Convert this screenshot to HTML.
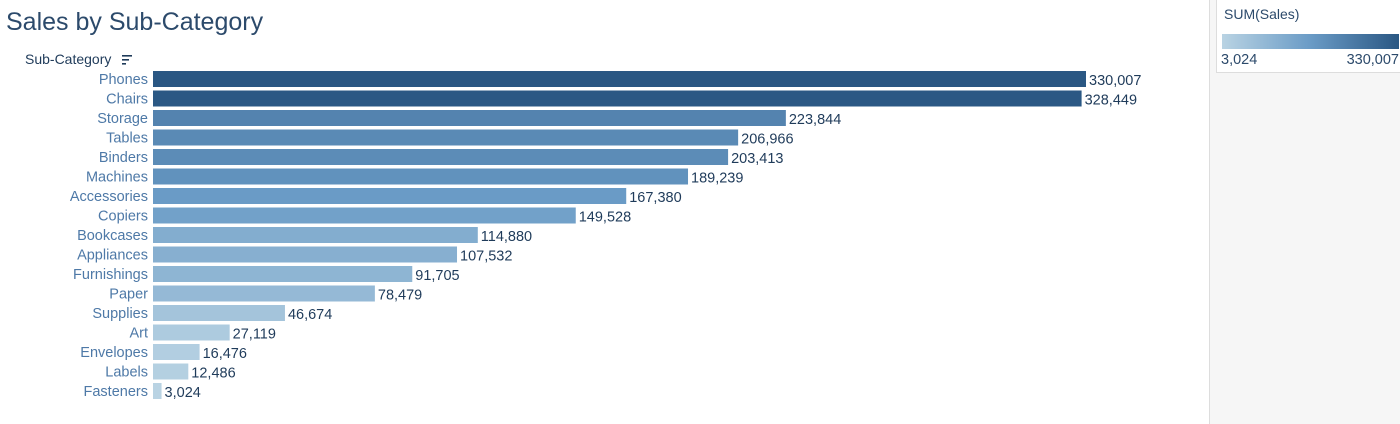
<!DOCTYPE html>
<html><head><meta charset="utf-8"><style>
body{margin:0;width:1400px;height:424px;background:#fff;font-family:"Liberation Sans",sans-serif;overflow:hidden;position:relative}
#title{position:absolute;left:6px;top:8px;font-size:25px;color:#2c4a6b}
#panel{position:absolute;left:1209px;top:0;width:191px;height:424px;background:#f6f6f6;border-left:1px solid #ddd}
#leg{position:absolute;left:1216px;top:0;width:184px;height:72px;background:#fff;border-left:1px solid #ddd;border-bottom:1px solid #ddd}
</style></head><body>
<div id="title">Sales by Sub-Category</div>
<div id="panel"></div>
<div id="leg">
<div style="position:absolute;left:7px;top:6px;font-size:14px;color:#2c4a6b">SUM(Sales)</div>
<div style="position:absolute;left:5px;top:34px;width:177px;height:15px;background:linear-gradient(to right,#b9d3e3,#6a9bc6,#2a5783)"></div>
<div style="position:absolute;left:4px;top:52px;font-size:14.5px;color:#2c4a6b">3,024</div>
<div style="position:absolute;right:2px;top:52px;font-size:14.5px;color:#2c4a6b">330,007</div>
</div>
<svg id="chart" width="1200" height="424" style="position:absolute;left:0;top:0">
<text x="25" y="64" font-size="14" fill="#1f3b5a">Sub-Category</text>
<g fill="#1f3b5a"><rect x="122" y="55" width="10" height="1.6"/><rect x="122" y="59" width="7" height="1.6"/><rect x="122" y="63" width="4" height="1.6"/></g>
</svg>
<script>
const categories=["Phones","Chairs","Storage","Tables","Binders","Machines","Accessories","Copiers","Bookcases","Appliances","Furnishings","Paper","Supplies","Art","Envelopes","Labels","Fasteners"];
const sales=[330007,328449,223844,206966,203413,189239,167380,149528,114880,107532,91705,78479,46674,27119,16476,12486,3024];
const svg=document.getElementById('chart');const NS='http://www.w3.org/2000/svg';
const x0=153,pxMax=933,yc0=79,step=19.5,bh=16;
const mx=Math.max(...sales),mn=Math.min(...sales);
const xs=v=>v/mx*pxMax;
function col(v){const t=(v-mn)/(mx-mn);const a=[185,211,227],m=[106,155,198],b=[42,87,131];
let p,q,u;if(t<0.5){p=a;q=m;u=t*2}else{p=m;q=b;u=(t-0.5)*2}
return `rgb(${p.map((c,i)=>Math.round(c+(q[i]-c)*u)).join(',')})`;}
categories.forEach((c,i)=>{const y=yc0+i*step;
const l=document.createElementNS(NS,'text');l.setAttribute('x',148);l.setAttribute('y',y+5);l.setAttribute('text-anchor','end');l.setAttribute('font-size','14.5');l.setAttribute('fill','#4e79a7');l.textContent=c;

svg.appendChild(l);
const r=document.createElementNS(NS,'rect');r.setAttribute('x',x0);r.setAttribute('y',y-bh/2);r.setAttribute('width',xs(sales[i]));r.setAttribute('height',bh);r.setAttribute('fill',col(sales[i]));

svg.appendChild(r);
const t=document.createElementNS(NS,'text');t.setAttribute('x',x0+xs(sales[i])+3);t.setAttribute('y',y+6);t.setAttribute('font-size','14.5');t.setAttribute('fill','#1f3b5a');t.textContent=sales[i].toLocaleString('en-US');

svg.appendChild(t);});
</script>
</body></html>
